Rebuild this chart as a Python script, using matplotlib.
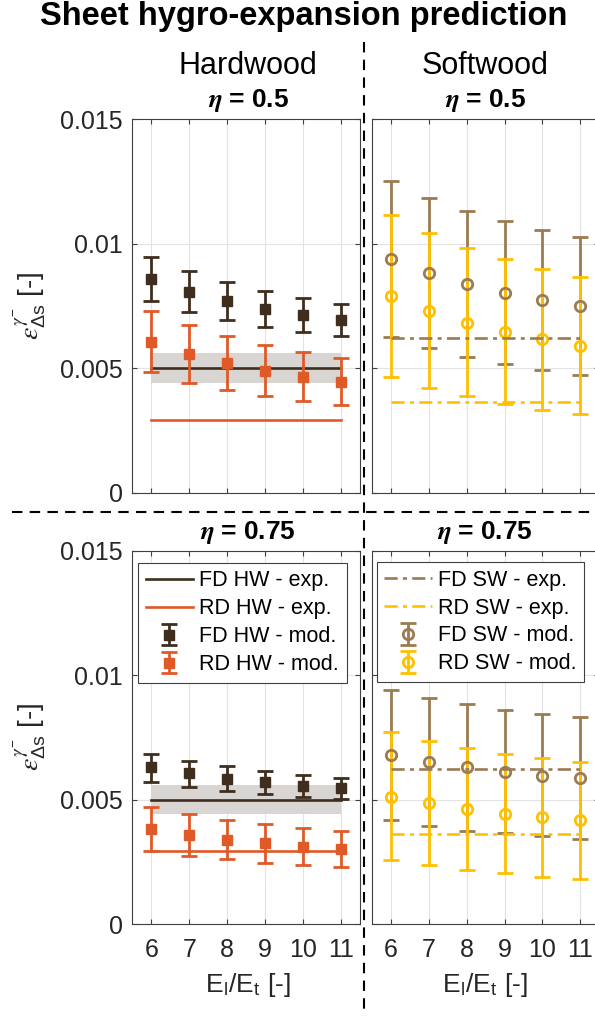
import numpy as np
import matplotlib
matplotlib.use("Agg")
from matplotlib import pyplot as plt
from matplotlib.lines import Line2D

plt.rcParams['font.family'] = ['Liberation Sans', 'DejaVu Sans']
plt.rcParams['mathtext.fontset'] = 'custom'
plt.rcParams['mathtext.rm'] = 'Liberation Sans'
plt.rcParams['mathtext.it'] = 'STIXGeneral:italic'
plt.rcParams['mathtext.bf'] = 'STIXGeneral:italic:bold'

# stiffness ratio El/Et
x_ratio = [6, 7, 8, 9, 10, 11]

# hardwood, eta = 0.5
fd_hw_05 = [0.00859, 0.00808, 0.00769, 0.00738, 0.00713, 0.00692]
fd_hw_05_lo = [0.00770, 0.00726, 0.00694, 0.00666, 0.00644, 0.00630]
fd_hw_05_hi = [0.00948, 0.00889, 0.00845, 0.00810, 0.00781, 0.00758]
rd_hw_05 = [0.00607, 0.00559, 0.00520, 0.00489, 0.00465, 0.00443]
rd_hw_05_lo = [0.00484, 0.00442, 0.00411, 0.00388, 0.00367, 0.00351]
rd_hw_05_hi = [0.00730, 0.00672, 0.00628, 0.00593, 0.00565, 0.00541]

# hardwood, eta = 0.75
fd_hw_075 = [0.00630, 0.00607, 0.00585, 0.00571, 0.00557, 0.00546]
fd_hw_075_lo = [0.00572, 0.00553, 0.00536, 0.00524, 0.00513, 0.00505]
fd_hw_075_hi = [0.00686, 0.00658, 0.00634, 0.00616, 0.00601, 0.00589]
rd_hw_075 = [0.00384, 0.00359, 0.00340, 0.00325, 0.00312, 0.00301]
rd_hw_075_lo = [0.00296, 0.00276, 0.00261, 0.00248, 0.00237, 0.00229]
rd_hw_075_hi = [0.00471, 0.00443, 0.00419, 0.00403, 0.00388, 0.00376]

# softwood, eta = 0.5
fd_sw_05 = [0.00938, 0.00881, 0.00838, 0.00804, 0.00774, 0.00750]
fd_sw_05_lo = [0.00624, 0.00580, 0.00545, 0.00517, 0.00494, 0.00474]
fd_sw_05_hi = [0.01252, 0.01183, 0.01132, 0.01090, 0.01055, 0.01029]
rd_sw_05 = [0.00790, 0.00730, 0.00683, 0.00647, 0.00616, 0.00591]
rd_sw_05_lo = [0.00466, 0.00422, 0.00387, 0.00356, 0.00332, 0.00316]
rd_sw_05_hi = [0.01116, 0.01042, 0.00984, 0.00938, 0.00899, 0.00868]

# softwood, eta = 0.75
fd_sw_075 = [0.00680, 0.00651, 0.00631, 0.00611, 0.00597, 0.00587]
fd_sw_075_lo = [0.00419, 0.00396, 0.00376, 0.00366, 0.00354, 0.00343]
fd_sw_075_hi = [0.00942, 0.00908, 0.00884, 0.00861, 0.00845, 0.00832]
rd_sw_075 = [0.00513, 0.00486, 0.00463, 0.00443, 0.00430, 0.00417]
rd_sw_075_lo = [0.00259, 0.00237, 0.00218, 0.00205, 0.00192, 0.00182]
rd_sw_075_hi = [0.00774, 0.00738, 0.00710, 0.00684, 0.00667, 0.00651]

# experiments
fd_hw_exp = 0.0050
fd_hw_exp_band = [0.00442, 0.00560]
rd_hw_exp = 0.00293
fd_sw_exp = 0.00623
rd_sw_exp = 0.00364

c_fd_hw = '#3f2e1e'
c_rd_hw = '#e05a28'
c_fd_sw = '#9a7b52'
c_rd_sw = '#ffc000'
c_band = '#d9d5d2'
c_txt = '#262626'

fig = plt.figure(figsize=(5.95, 10.16), dpi=100)

W = 1 / 595.0
H = 1 / 1016.0
aw, ah = 227.7 * W, 373.4 * H
ax_tl = fig.add_axes([132.3 * W, 1 - 492.7 * H, aw, ah])
ax_tr = fig.add_axes([371.7 * W, 1 - 492.7 * H, aw, ah])
ax_bl = fig.add_axes([132.3 * W, 1 - 924.3 * H, aw, ah])
ax_br = fig.add_axes([371.7 * W, 1 - 924.3 * H, aw, ah])


def err(v, lo, hi):
    v = np.array(v)
    return [v - np.array(lo), np.array(hi) - v]


def style(ax, xlab, ylab):
    ax.set_xlim(5.5, 11.5)
    ax.set_ylim(0, 0.015)
    ax.set_xticks(x_ratio)
    ax.set_yticks([0, 0.005, 0.01, 0.015])
    ax.set_yticklabels(['0', '0.005', '0.01', '0.015'])
    ax.grid(True, color='#e3e3e3', lw=0.8)
    ax.set_axisbelow(True)
    ax.tick_params(direction='in', length=3.5, top=True, right=True,
                   color='#404040', labelcolor=c_txt, labelsize=18)
    ax.tick_params(axis='x', pad=10)
    ax.tick_params(axis='y', pad=7)
    for s in ax.spines.values():
        s.set_color('#404040')
        s.set_linewidth(0.8)
    if not xlab:
        ax.set_xticklabels([])
    if not ylab:
        ax.set_yticklabels([])


eb_kw = dict(elinewidth=2.0, capsize=5.5, capthick=2.0, ls='none')


def hw_panel(ax, fd, fd_lo, fd_hi, rd, rd_lo, rd_hi):
    ax.fill_between([x_ratio[0], x_ratio[-1]], fd_hw_exp_band[0], fd_hw_exp_band[1],
                    color=c_band, lw=0, zorder=1)
    l1, = ax.plot([x_ratio[0], x_ratio[-1]], [fd_hw_exp] * 2, color=c_fd_hw, lw=1.9, zorder=2)
    l2, = ax.plot([x_ratio[0], x_ratio[-1]], [rd_hw_exp] * 2, color=c_rd_hw, lw=1.9, zorder=2)
    e1 = ax.errorbar(x_ratio, fd, yerr=err(fd, fd_lo, fd_hi), color=c_fd_hw,
                     marker='s', ms=6.5, zorder=3, **eb_kw)
    e2 = ax.errorbar(x_ratio, rd, yerr=err(rd, rd_lo, rd_hi), color=c_rd_hw,
                     marker='s', ms=6.5, zorder=3, **eb_kw)
    return [l1, l2, e1, e2]


def sw_panel(ax, fd, fd_lo, fd_hi, rd, rd_lo, rd_hi):
    e1 = ax.errorbar(x_ratio, fd, yerr=err(fd, fd_lo, fd_hi), color=c_fd_sw,
                     marker='o', ms=7.5, mfc='none', mew=2.0, zorder=3, **eb_kw)
    e2 = ax.errorbar(x_ratio, rd, yerr=err(rd, rd_lo, rd_hi), color=c_rd_sw,
                     marker='o', ms=7.5, mfc='none', mew=2.0, zorder=3, **eb_kw)
    l1, = ax.plot([x_ratio[0], x_ratio[-1]], [fd_sw_exp] * 2, color=c_fd_sw, lw=1.9,
                  ls=(0, (5, 2, 1.5, 2)), zorder=4)
    l2, = ax.plot([x_ratio[0], x_ratio[-1]], [rd_sw_exp] * 2, color=c_rd_sw, lw=1.9,
                  ls=(0, (5, 2, 1.5, 2)), zorder=4)
    return [l1, l2, e1, e2]


hw_panel(ax_tl, fd_hw_05, fd_hw_05_lo, fd_hw_05_hi, rd_hw_05, rd_hw_05_lo, rd_hw_05_hi)
h_hw = hw_panel(ax_bl, fd_hw_075, fd_hw_075_lo, fd_hw_075_hi, rd_hw_075, rd_hw_075_lo, rd_hw_075_hi)
sw_panel(ax_tr, fd_sw_05, fd_sw_05_lo, fd_sw_05_hi, rd_sw_05, rd_sw_05_lo, rd_sw_05_hi)
h_sw = sw_panel(ax_br, fd_sw_075, fd_sw_075_lo, fd_sw_075_hi, rd_sw_075, rd_sw_075_lo, rd_sw_075_hi)

style(ax_tl, False, True)
style(ax_tr, False, False)
style(ax_bl, True, True)
style(ax_br, True, False)

leg_kw = dict(loc='upper left', borderaxespad=0, fontsize=15.5, handlelength=2.2,
              handletextpad=0.3, labelspacing=0.32, borderpad=0.35, fancybox=False,
              framealpha=1, edgecolor='#404040')
lg = ax_bl.legend(h_hw, ['FD HW - exp.', 'RD HW - exp.', 'FD HW - mod.', 'RD HW - mod.'],
                  bbox_to_anchor=(0.025, 0.968), **leg_kw)
lg.get_frame().set_linewidth(0.8)
lg = ax_br.legend(h_sw, ['FD SW - exp.', 'RD SW - exp.', 'FD SW - mod.', 'RD SW - mod.'],
                  bbox_to_anchor=(0.023, 0.97), **leg_kw)
lg.get_frame().set_linewidth(0.8)

# titles and labels
fig.text(0.51, 1 - 17 * H, 'Sheet hygro-expansion prediction', ha='center', va='center',
         fontsize=23.5, fontweight='bold')
cx_l = 248 * W
cx_r = 485 * W
fig.text(cx_l, 1 - 66 * H, 'Hardwood', ha='center', va='center', fontsize=22)
fig.text(cx_r, 1 - 66 * H, 'Softwood', ha='center', va='center', fontsize=22)
for cx in (cx_l, cx_r):
    fig.text(cx, 1 - 101 * H, r'$\mathbf{\eta}$ = 0.5', ha='center', va='center',
             fontsize=19, fontweight='bold')
    fig.text(cx, 1 - 532 * H, r'$\mathbf{\eta}$ = 0.75', ha='center', va='center',
             fontsize=19, fontweight='bold')
    fig.text(cx, 1 - 985 * H, r'E$_\mathrm{l}$/E$_\mathrm{t}$ [-]', ha='center', va='center',
             fontsize=19, color=c_txt)

ylab = r'$\epsilon^{\gamma^{-}}_{\Delta\mathrm{s}}$ [-]'
fig.text(30 * W, 1 - 306 * H, ylab, rotation=90, ha='center', va='center', fontsize=20, color=c_txt)
fig.text(30 * W, 1 - 737 * H, ylab, rotation=90, ha='center', va='center', fontsize=20, color=c_txt)

# dashed separators between the panels
fig.add_artist(Line2D([364 * W, 364 * W], [1 - 42 * H, 0], transform=fig.transFigure,
                      color='k', lw=1.5, ls=(0, (5, 3.5))))
fig.add_artist(Line2D([12 * W, 1], [1 - 512 * H, 1 - 512 * H], transform=fig.transFigure,
                      color='k', lw=1.5, ls=(0, (5, 3.5))))

fig.savefig('out.png', dpi=100)
